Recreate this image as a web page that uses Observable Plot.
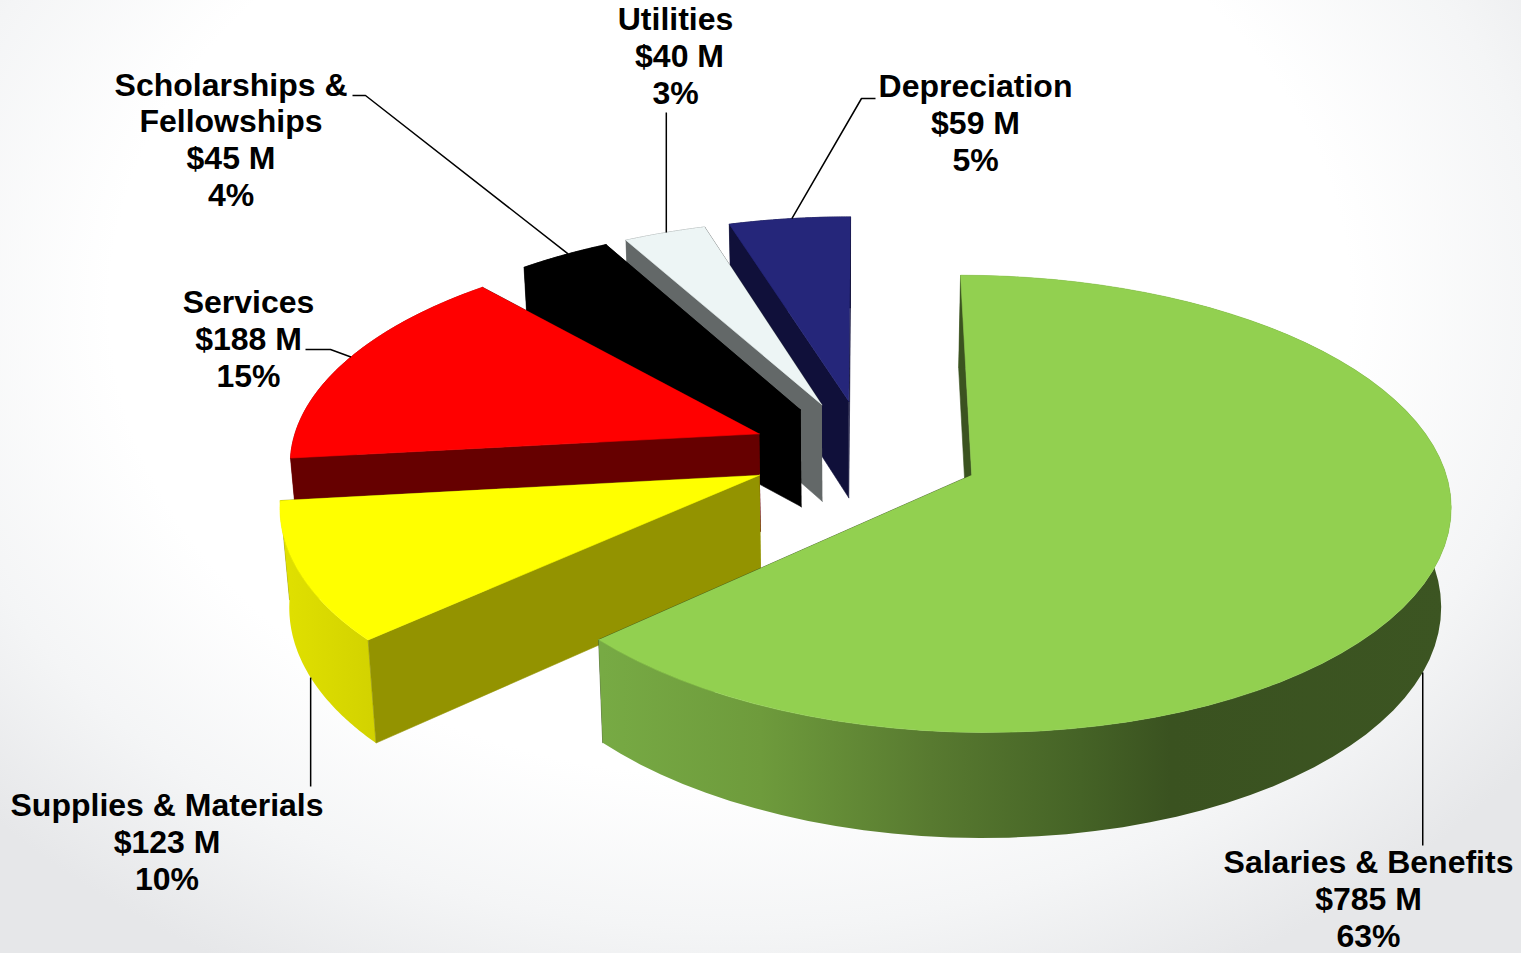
<!DOCTYPE html>
<html>
<head>
<meta charset="utf-8">
<script src="https://cdn.jsdelivr.net/npm/d3@7"></script>
<script src="https://cdn.jsdelivr.net/npm/@observablehq/plot@0.6"></script>
<style>
  html, body { margin: 0; padding: 0; width: 1521px; height: 953px; overflow: hidden;
    background: radial-gradient(ellipse 1000px 760px at 48% 32%, #ffffff 62%, #f4f5f6 82%, #e6e7e9 100%); }
  svg { display: block; background: transparent !important; }
</style>
</head>
<body>
<div id="chart"></div>
<script>
// Expense categories in clockwise order, starting at twelve o'clock.
const categories = ["Salaries & Benefits", "Supplies & Materials", "Services", "Scholarships &|Fellowships", "Utilities", "Depreciation"];
const amounts = [785, 123, 188, 45, 40, 59];
const percents = [63, 10, 15, 4, 3, 5];

// Slice colours: top face, rim wall, cut wall.
const topColors = ["#92d050", "#ffff00", "#ff0000", "#000000", "#edf5f5", "#25267a"];
const rimColors = ["url(#rimGreen)", "url(#rimYellow)", "#990000", "#000000", "#636868", "#10103a"];
const cutColors = ["#3b5320", "#939300", "#660000", "#000000", "#636868", "#10103a"];

// Label centres, the amount line's sideways nudge, and the leader path from each slice's rim outwards.
const labelX = [1368, 166.5, 248, 230.5, 675, 975];
const labelY = [899, 842, 339, 140, 56.5, 123.5];
const amountShift = [0, 0, 0, 0, 4, 0];
const leaderTails = [
  [[null, 845]],
  [[null, 786]],
  [[330, 349], [305, 349]],
  [[365, 95], [352, 95]],
  [[null, 112]],
  [[861, 98], [875, 98]]
];
const leaderOnBase = [true, true, false, false, false, false];
const leaderFraction = [0.5, 0.475, 0.52, 0.55, 0.52, 0.52];

// Pie projection: a tilted disc seen in perspective, with every slice pulled out along its bisector.
const view = {cx: 865, cy: 452.3, rx: 469, ry: 219.4, depthX: 8.6, depthY: 8, explode: 0.245, thickness: 98, baseShrink: 0.0165, vanishX: 844};
const total = d3.sum(amounts);

function project(X, Y, base) {
  const fx = view.depthX / (view.depthX - Y);
  const fy = view.depthY / (view.depthY - Y);
  let x = view.cx + view.rx * X * fx;
  let y = view.cy + view.ry * Y * fy;
  if (base) {
    x += (view.vanishX - x) * view.baseShrink;
    y += view.thickness * Math.sqrt(fy);
  }
  return {x, y};
}

let running = 0;
const slices = amounts.map((v, i) => {
  const a0 = running / total * 2 * Math.PI;
  running += v;
  const a1 = running / total * 2 * Math.PI;
  const mid = (a0 + a1) / 2;
  const ex = view.explode * Math.sin(mid), ey = -view.explode * Math.cos(mid);
  const at = (a, r, base) => project(ex + r * Math.sin(a), ey - r * Math.cos(a), base);
  return {i, a0, a1, mid, at};
});

const polygon = (pts, fill, stroke = fill) =>
  Plot.line(pts, {x: "x", y: "y", fill, stroke, strokeWidth: stroke === "none" ? 0 : 0.6});

function sliceMarks(s) {
  const steps = d3.range(0, 73).map((k) => s.a0 + (s.a1 - s.a0) * k / 72);
  const rimTop = steps.map((a) => s.at(a, 1, false));
  const rimBase = steps.map((a) => s.at(a, 1, true)).reverse();
  const face = [s.at(0, 0, false), ...rimTop];
  const wall = (a) => [s.at(0, 0, false), s.at(a, 1, false), s.at(a, 1, true), s.at(0, 0, true)];
  const rimFill = rimColors[s.i];
  return [
    polygon(wall(s.a1), cutColors[s.i]),
    polygon([...rimTop, ...rimBase], rimFill, rimFill.startsWith("url") ? "none" : rimFill),
    polygon(wall(s.a0), cutColors[s.i]),
    polygon(face, topColors[s.i])
  ];
}

// Horizontal shading on the curved outer walls.
function gradients() {
  const defs = d3.create("svg:defs");
  const add = (id, stops) => {
    const g = defs.append("linearGradient").attr("id", id).attr("gradientUnits", "userSpaceOnUse")
      .attr("x1", stops[0][0]).attr("x2", stops[stops.length - 1][0]).attr("y1", 0).attr("y2", 0);
    const span = stops[stops.length - 1][0] - stops[0][0];
    for (const [x, c] of stops) g.append("stop").attr("offset", (x - stops[0][0]) / span).attr("stop-color", c);
  };
  add("rimGreen", [[602, "#77aa44"], [760, "#6e9b3c"], [930, "#587a30"], [1080, "#456326"], [1170, "#3a5220"], [1450, "#3c5522"]]);
  add("rimYellow", [[284, "#e0e000"], [376, "#d2d200"]]);
  return defs.node();
}

const leaders = slices.flatMap((s) => {
  const anchor = s.at(s.a0 + (s.a1 - s.a0) * leaderFraction[s.i], 1, leaderOnBase[s.i]);
  const tail = leaderTails[s.i].map(([x, y]) => ({x: x ?? anchor.x, y}));
  return [anchor, ...tail].map((p) => ({...p, id: s.i}));
});

// One row per printed line, spaced evenly around the label centre.
const lineGap = 36.8;
const labelLines = slices.flatMap((s) => {
  const rows = [...categories[s.i].split("|").map((t) => ({t, dx: 0})),
    {t: `$${amounts[s.i]} M`, dx: amountShift[s.i]},
    {t: `${percents[s.i]}%`, dx: 0}];
  return rows.map((r, k) => ({
    x: labelX[s.i] + r.dx,
    y: labelY[s.i] + (k - (rows.length - 1) / 2) * lineGap,
    text: r.t
  }));
});

const chart = Plot.plot({
  width: 1521,
  height: 953,
  margin: 0,
  style: {background: "transparent"},
  x: {type: "linear", domain: [0, 1521], range: [0, 1521], axis: null},
  y: {type: "linear", domain: [0, 953], range: [0, 953], axis: null},
  marks: [
    gradients,
    ...slices.slice().reverse().flatMap(sliceMarks),
    Plot.line(leaders, {x: "x", y: "y", z: "id", stroke: "#000", strokeWidth: 1.5, strokeLinecap: "butt"}),
    Plot.text(labelLines, {
      x: "x", y: "y", text: "text", textAnchor: "middle", lineAnchor: "middle",
      fontFamily: "Liberation Sans", fontWeight: "bold", fontSize: 32, fill: "#000"
    })
  ]
});
document.getElementById("chart").append(chart);
</script>
</body>
</html>
